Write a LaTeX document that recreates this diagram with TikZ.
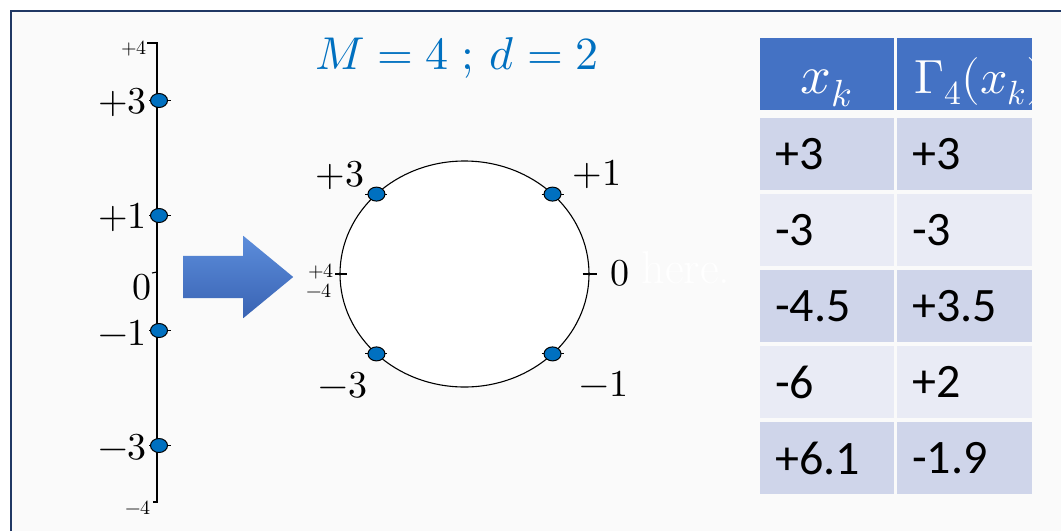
\documentclass[tikz,border=0pt]{standalone}
\usepackage{fontspec}
\usepackage{unicode-math}
\newfontfamily\cellfont{Carlito}
\usetikzlibrary{positioning,calc,shapes.geometric,shapes.arrows}

\definecolor{frameblue}{HTML}{203864}
\definecolor{dotblue}{HTML}{0070C0}
\definecolor{headblue}{HTML}{4472C4}
\definecolor{rowdark}{HTML}{CFD5EA}
\definecolor{rowlight}{HTML}{E9EBF5}
\definecolor{pagegray}{HTML}{FAFAFA}
\definecolor{arrowtop}{HTML}{5C8DDB}
\definecolor{arrowbot}{HTML}{3963B3}

\begin{document}
\begin{tikzpicture}[x=1pt,y=-1pt,
    dot/.style={ellipse,draw=black,line width=1pt,fill=dotblue,inner sep=0pt,
      minimum width=17pt,minimum height=14pt},
    lab/.style={font=\fontsize{38}{38}\selectfont,inner sep=0pt},
    tiny/.style={font=\fontsize{20}{20}\selectfont,inner sep=0pt},
    cell/.style={anchor=north west,minimum height=72pt,inner ysep=0pt,inner xsep=15pt,
      align=left,font=\cellfont\fontsize{48}{48}\selectfont},
    head/.style={anchor=north west,fill=headblue,minimum height=72pt,inner sep=0pt},
    tick/.style={line width=1.1pt}]
  \useasboundingbox (0,0) rectangle (1061,531);
  % slide background and frame
  \fill[white] (0,0) rectangle (1061,531);
  \fill[pagegray] (11,11) rectangle (1061,531);
  \draw[frameblue,line width=2.5pt] (11,531) |- (1061,11);

  % number line
  \coordinate (axtop) at (157,43);
  \coordinate (axbot) at (157,502);
  \coordinate (axzero) at (157,272);
  \draw[tick] (147,43) -- (axtop) -- (axbot) -- (153,502);
  \draw[tick] (axzero) -- (152,273);
  \node[tiny,anchor=east] (ltop) at (147,49) {$+4$};
  \node[tiny,anchor=east] (lbot) at (151,508) {$-4$};
  \node[lab,anchor=east] (lzero) at (152,287) {$0$};
  \foreach \v/\nm in {3/p3,1/p1,-1/m1,-3/m3} {
    \draw[tick] (149,{273-57.5*\v}) -- (171,{273-57.5*\v});
    \node[dot] (ax\nm) at (159,{273-57.5*\v}) {};
    \node[lab,anchor=east] (lab\nm) at (147,{275-57.5*\v}) {$\ifnum\v>0 +\else -\fi\the\numexpr\ifnum\v<0 -\fi\v\relax$};
  }

  % block arrow
  \node[single arrow,anchor=tail,minimum height=110pt,inner xsep=0pt,inner ysep=21pt,
    single arrow head extend=20pt,single arrow tip angle=79,
    top color=arrowtop,bottom color=arrowbot] (push) at (183,277) {};

  % title
  \node[font=\fontsize{46}{46}\selectfont,text=dotblue] (title) at (457,58) {$M = 4\;;\,d = 2$};

  % ring
  \node[ellipse,draw=black,line width=1.1pt,fill=white,minimum width=249pt,
    minimum height=226pt,inner sep=0pt] (ring) at (464.5,274) {};
  \draw[tick] (ring.west) ++(-4,0) -- ++(12,0);
  \draw[tick] (ring.east) ++(-7,0) -- ++(14,0);
  \foreach \a/\nm in {45/p1,135/p3,225/m3,315/m1} {
    \coordinate (c\nm) at ($(ring.center)+(\a:124.5pt and 113pt)$);
    \draw[tick] ($(c\nm)+(-11,0)$) -- ($(c\nm)+(11,0)$);
    \node[dot] (rd\nm) at (c\nm) {};
  }
  \node[lab] (rlp3) at (340,175) {$+3$};
  \node[lab] (rlp1) at (597,174) {$+1$};
  \node[lab] (rlm3) at (343,385) {$-3$};
  \node[lab] (rlm1) at (604,384) {$-1$};
  \node[lab] (rlzero) at (620,273) {$0$};
  \node[tiny] (rltop) at (321,272) {$+4$};
  \node[tiny] (rlbot) at (319,291) {$-4$};
  \node[font=\fontsize{46}{46}\selectfont,text=white,inner sep=0pt] (ghost) at (686,268) {here.};

  % table
  \node[head,minimum width=134pt] (ha) at (760,38) {};
  \node[head,minimum width=135pt] (hb) at (897,38) {};
  \node[text=white,font=\fontsize{54}{54}\selectfont,anchor=base,inner sep=0pt] (hatext) at (826,93) {$x_k$};
  \begin{scope}
    \clip (hb.north west) rectangle (hb.south east);
    \node[text=white,font=\fontsize{48}{48}\selectfont,anchor=base west,inner sep=0pt] (hbtext) at (914,93) {$\Gamma_4(x_k)$};
  \end{scope}
  \foreach \va/\vb/\shade [count=\i] in {+3/+3/rowdark,-3/-3/rowlight,-4.5/+3.5/rowdark,-6/+2/rowlight,+6.1/-1.9/rowdark} {
    \node[cell,fill=\shade,text width=104pt] (a\i) at (760,{118+76*(\i-1)}) {\va};
    \node[cell,fill=\shade,text width=105pt] (b\i) at (897,{118+76*(\i-1)}) {\vb};
  }
\end{tikzpicture}
\end{document}
